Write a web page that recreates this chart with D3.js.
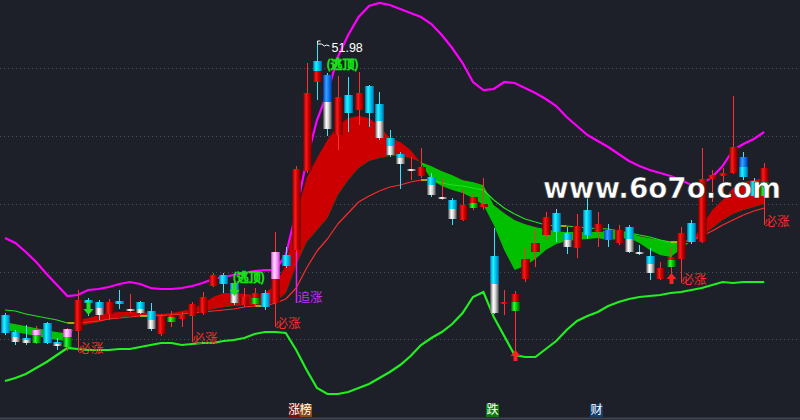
<!DOCTYPE html>
<html>
<head>
<meta charset="utf-8">
<script src="https://cdn.jsdelivr.net/npm/d3@7"></script>
<style>
  html, body { margin: 0; padding: 0; background: #1d2028; }
  svg { display: block; }
</style>
</head>
<body>
<svg id="chart" width="800" height="420"></svg>
<script>
// ---- daily bars ----
const opens = [24.78,23.08,22.48,21.98,23.98,22.08,21.58,23.18,26.28,26.08, 24.88,26.18,25.38,26.08,25.18,22.88,24.08,24.38,24.68,24.98, 27.68,28.78,27.98,25.78,25.88,26.98,25.98,30.78,31.28,39.18, 50.18,48.78,42.78,46.78,45.28,47.68,45.88,42.48,40.88,39.38, 38.68,38.58,36.58,36.28,34.28,35.48,35.58,30.68,25.88,25.18, 28.38,31.08,32.78,34.98,32.98,31.48,35.28,33.08,33.28,31.98, 33.58,31.08,30.68,28.38,29.58,30.38,33.98,32.08,38.38,38.68, 38.98,40.58,38.18,36.68];
const highs = [24.98,23.28,23.78,23.68,24.08,22.48,23.48,27.28,26.48,26.28, 26.38,27.28,26.88,26.18,25.98,24.88,25.18,25.08,26.08,27.08, 28.98,28.98,28.28,27.48,27.48,27.28,33.08,31.58,39.68,49.98, 51.98,48.98,48.68,48.58,49.08,47.78,47.08,43.28,41.08,40.58, 41.48,38.98,38.48,36.48,37.38,36.98,38.48,33.48,27.28,27.18, 31.48,33.28,35.08,35.38,33.58,34.88,37.58,35.08,33.88,33.78, 33.78,31.78,31.48,30.08,31.58,33.58,34.28,41.48,39.28,39.48, 46.68,41.08,38.48,39.98];
const lows = [22.78,21.78,21.78,21.88,21.88,21.28,21.18,22.88,24.68,24.28, 24.28,25.38,24.98,24.88,23.18,22.68,23.58,23.58,24.48,24.78, 27.58,26.98,25.78,25.58,25.58,25.28,24.28,29.48,31.08,38.98, 46.28,42.68,41.28,43.08,43.78,43.58,42.28,40.58,37.38,38.28, 38.48,36.58,36.28,33.78,34.18,35.28,35.28,24.88,24.78,24.98, 28.08,29.58,32.28,32.08,30.88,30.48,32.38,31.58,31.58,31.78, 30.98,30.78,28.28,28.28,29.48,30.18,31.88,31.98,36.08,36.48, 38.88,38.28,36.58,36.28];
const closes = [22.98,22.08,21.98,23.28,21.98,21.68,23.38,26.28,25.98,24.78, 26.08,25.88,25.18,24.98,23.38,24.68,24.78,24.78,25.88,26.58, 28.78,27.88,25.98,26.58,26.98,25.58,31.08,29.68,39.38,46.98, 48.08,43.38,46.58,44.98,46.98,44.98,42.48,40.78,39.88,39.18, 39.58,36.78,36.38,34.38,35.78,36.58,35.88,24.98,26.08,26.88, 30.38,31.98,34.58,33.08,31.58,33.68,32.78,33.88,32.28,33.28, 31.08,30.98,28.98,29.48,30.58,32.98,32.08,38.38,38.78,38.98, 41.58,38.58,36.68,39.48];
// price where a bar's body changes tone (null = single tone)
const splits = [null,22.58,22.28,22.78,null,21.88,22.58,null,null,25.48, null,null,null,25.38,24.28,null,24.58,null,null,null, null,null,26.88,null,26.48,null,28.38,null,null,null, 49.18,46.08,null,null,null,null,44.18,41.68,40.48,null, null,37.78,null,35.38,null,35.98,null,27.88,null,26.08, null,null,null,null,32.28,null,null,null,null,null, 32.38,null,29.88,null,30.28,null,null,null,null,null, null,39.58,null,38.08];
// bar tone state: r red, c cyan, w white, p pink, g green, b blue (upper part first)
const tones = ["c","cw","cw","pg","c","cw","pg","r","c","cw", "r","c","wr","cw","cw","r","rg","r","r","r", "r","c","cw","r","rg","c","pr","c","r","r", "cr","bw","r","c","r","c","cw","cw","cw","wr", "r","cw","wr","cw","r","rg","r","cw","r","rg", "r","r","r","c","cw","r","c","r","b","r", "cw","wc","cw","r","rg","r","c","r","r","r", "r","bc","c","rg"];

// ---- indicator lines ----
const upperBand = [32.48,31.98,31.08,30.08,28.88,27.78,26.68,26.78,27.28,27.38, 27.58,27.88,28.08,27.88,27.48,27.38,27.38,27.48,27.68,27.98, 28.38,28.58,28.78,28.98,29.18,29.28,29.28,30.78,35.08,40.28, 44.28,46.98,50.58,52.78,54.58,55.68,55.98,55.78,55.38,54.98, 54.58,53.88,52.78,51.48,49.98,48.08,47.28,47.38,48.08,47.98, 47.48,46.98,46.38,45.68,44.58,43.68,42.78,42.18,41.58,40.88, 40.18,39.68,39.28,38.98,38.68,38.28,37.78,37.88,38.58,39.68, 41.28,41.88,42.38,43.08];
const lowerBand = [18.18,18.48,18.88,19.48,20.08,20.78,21.48,21.38,21.28,21.28, 21.28,21.38,21.38,21.58,21.78,21.98,21.98,21.78,21.88,21.98, 21.98,22.18,22.28,22.48,22.88,23.08,23.08,22.98,21.28,19.28, 17.48,16.88,16.88,17.08,17.48,17.88,18.48,19.08,19.78,20.68, 21.78,22.48,23.08,23.88,24.98,26.58,27.08,24.58,22.68,20.78, 20.58,20.58,21.38,22.18,23.28,24.18,24.68,25.08,25.68,26.08, 26.38,26.58,26.68,26.78,26.98,27.08,27.28,27.48,27.78,28.08, 27.98,28.08,28.08,28.08];
const slowLine = [25.28,25.18,24.88,24.68,24.48,24.28,23.98,23.98,24.08,24.18, 24.38,24.48,24.58,24.68,24.68,24.73,24.78,24.88,24.98,25.08, 25.18,25.28,25.38,25.58,25.68,25.68,25.98,26.38,27.48,29.48, 31.18,32.38,33.88,34.98,36.08,36.68,37.18,37.58,37.78,38.08, 38.28,38.28,37.98,37.78,37.68,37.48,37.28,36.28,35.48,34.88, 34.38,34.08,33.78,33.68,33.68,33.58,33.48,33.43,33.38,33.18, 32.98,32.78,32.58,32.28,32.08,32.08,32.28,32.68,33.18,33.78, 34.28,34.78,35.18,35.48];
const fastLine = [23.28,23.08,22.88,22.68,22.48,22.28,22.18,24.28,24.48,24.78, 24.98,25.08,25.08,25.08,24.98,24.88,24.98,25.18,25.38,25.88, 26.58,26.98,26.98,26.88,26.78,26.98,27.78,29.78,34.78,38.48, 40.48,42.28,43.68,44.48,44.68,44.48,43.68,42.48,42.08,41.28, 39.98,38.28,37.68,37.28,36.98,36.48,35.78,33.78,31.28,29.28, 29.68,30.38,31.28,31.88,32.18,32.28,32.38,32.48,32.28,32.38, 32.48,31.98,31.28,30.78,30.58,31.38,32.18,33.68,35.28,36.28, 37.48,38.08,38.28,38.48];
const midLine = [24.08,23.88,23.68,23.48,23.28,23.08,22.98,23.68,23.88,24.08, 24.38,24.58,24.68,24.68,24.68,24.68,24.78,24.88,24.98,25.08, 25.38,25.58,25.68,25.78,25.78,25.88,26.08,26.98,29.78,32.08, 33.28,34.48,36.78,38.28,39.48,40.18,40.48,40.68,40.68,40.48, 40.08,39.68,39.18,38.78,38.28,38.08,37.78,35.78,34.98,34.28, 33.88,33.58,33.38,33.18,33.08,33.08,33.08,33.08,33.28,33.18, 32.98,32.68,32.48,32.28,32.08,31.98,31.98,32.68,33.48,34.28, 34.88,35.28,35.58,35.88];

const gridLevels = [49.45, 42.68, 35.90, 29.13, 22.35];

// ---- signals ----
const buySignals = [{i:7,p:21.08},{i:18,p:22.08},{i:26,p:23.58},{i:65,p:27.98},{i:73,p:33.78}];
const chaseSignals = [{i:28,p:25.98}];
const escapeSignals = [{i:22,p:28.38},{i:31,p:49.68}];
const downArrows = [{i:8,p:24.78},{i:22,p:26.68}];
const upArrows = [{i:49,p:21.28},{i:64,p:28.98}];
const peakIndex = 30;

const buyText = "必涨", chaseText = "追涨", escapeText = "(逃顶)";
const siteText = "www.6o7o.com";
const tabLabels = ["涨", "榜", "跌", "财"];

// ---- drawing ----
const W = 800, H = 420;
const svg = d3.select("#chart");
const n = opens.length;
const x = d3.scaleLinear().domain([0, n - 1]).range([5, 764.2]);
const y = d3.scaleLinear().domain([22.38, 51.98]).range([339, 43]);
const bodyW = 8.6;

const defs = svg.append("defs");
const palette = {
  red:   ["#7a0000", "#ff1a1a", "#d00000", "#6a0000"],
  cyan:  ["#0088c8", "#20f4ff", "#00c8f0", "#0078b8"],
  white: ["#5a5a5a", "#ffffff", "#d8d8d8", "#505050"],
  pink:  ["#e050e0", "#ffd8ff", "#ffa8ff", "#d040d0"],
  green: ["#007000", "#30ff30", "#00d000", "#006000"],
  blue:  ["#0040c0", "#3aa0ff", "#1080f0", "#0038a8"]
};
Object.entries(palette).forEach(([k, s]) => {
  const g = defs.append("linearGradient").attr("id", "g-" + k)
    .attr("x1", "0%").attr("x2", "100%").attr("y1", "0%").attr("y2", "0%");
  [0, 35, 60, 100].forEach((o, j) => g.append("stop").attr("offset", o + "%").attr("stop-color", s[j]));
});
const toneParts = {
  r: ["red"], c: ["cyan"], cw: ["cyan", "white"], pg: ["pink", "green"], pr: ["pink", "red"],
  rg: ["red", "green"], wr: ["white"], wc: ["white"], cr: ["cyan", "red"], bw: ["blue", "white"],
  b: ["blue"], bc: ["blue", "cyan"]
};
const redWick = new Set(["r", "pg", "pr", "rg", "wr"]);

// grid
svg.append("g").selectAll("line").data(gridLevels).join("line")
  .attr("x1", 0).attr("x2", W).attr("y1", d => Math.round(y(d)) + 0.5).attr("y2", d => Math.round(y(d)) + 0.5)
  .attr("stroke", "#4b505c").attr("stroke-width", 1).attr("stroke-dasharray", "1,3");
svg.append("line").attr("x1", 0).attr("x2", W).attr("y1", 418.5).attr("y2", 418.5)
  .attr("stroke", "#3f4450").attr("stroke-width", 2);

// ribbon between fast and mid lines: red where fast is above, green where below
const idx = d3.range(n);
const midEdge = d3.line().x(i => x(i)).y(i => y(midLine[i]));
const clipAbove = defs.append("clipPath").attr("id", "clip-above");
clipAbove.append("path").attr("d", d3.area().x(i => x(i)).y0(0).y1(i => y(midLine[i]))(idx));
const clipBelow = defs.append("clipPath").attr("id", "clip-below");
clipBelow.append("path").attr("d", d3.area().x(i => x(i)).y0(H).y1(i => y(midLine[i]))(idx));
const ribbon = d3.area().x(i => x(i)).y0(i => y(midLine[i])).y1(i => y(fastLine[i]));
svg.append("path").attr("d", ribbon(idx)).attr("fill", "#cc0000").attr("clip-path", "url(#clip-above)");
svg.append("path").attr("d", ribbon(idx)).attr("fill", "#00c000").attr("clip-path", "url(#clip-below)");

// bands
const lineOf = arr => d3.line().x(i => x(i)).y(i => y(arr[i]))(idx);
svg.append("path").attr("d", lineOf(upperBand)).attr("fill", "none").attr("stroke", "#ff00ff").attr("stroke-width", 2.2);
svg.append("path").attr("d", lineOf(lowerBand)).attr("fill", "none").attr("stroke", "#22ee22").attr("stroke-width", 2.2);

// slow line coloured by its own trend
const slowSegs = d3.range(n - 1).map(i => {
  const d = slowLine[i + 1] - slowLine[i];
  return { i, col: Math.abs(d) < 0.02 ? "#ffff00" : (d > 0 ? "#ff2a2a" : "#22e022") };
});
svg.append("g").selectAll("line").data(slowSegs).join("line")
  .attr("x1", d => x(d.i)).attr("x2", d => x(d.i + 1))
  .attr("y1", d => y(slowLine[d.i])).attr("y2", d => y(slowLine[d.i + 1]))
  .attr("stroke", d => d.col).attr("stroke-width", 1.2);

// candles
const bars = svg.append("g").selectAll("g").data(idx).join("g");
bars.append("line")
  .attr("x1", i => Math.round(x(i)) + 0.5).attr("x2", i => Math.round(x(i)) + 0.5)
  .attr("y1", i => y(highs[i])).attr("y2", i => y(lows[i]))
  .attr("stroke", i => redWick.has(tones[i]) ? "#ff3030" : "#30e8ff").attr("stroke-width", 1);
bars.each(function (i) {
  const g = d3.select(this);
  const top = y(Math.max(opens[i], closes[i]));
  const bot = Math.max(y(Math.min(opens[i], closes[i])), top + 2);
  const parts = toneParts[tones[i]];
  const x0 = Math.round(x(i)) + 0.5 - bodyW / 2;
  if (parts.length === 1 || splits[i] === null) {
    g.append("rect").attr("x", x0).attr("y", top).attr("width", bodyW).attr("height", bot - top)
      .attr("fill", "url(#g-" + parts[0] + ")");
  } else {
    const m = y(splits[i]);
    g.append("rect").attr("x", x0).attr("y", top).attr("width", bodyW).attr("height", m - top)
      .attr("fill", "url(#g-" + parts[0] + ")");
    g.append("rect").attr("x", x0).attr("y", m).attr("width", bodyW).attr("height", bot - m)
      .attr("fill", "url(#g-" + parts[1] + ")");
  }
});

// signal markers
const cjk = "'Noto Sans CJK SC', sans-serif";
buySignals.forEach(s => {
  const xx = Math.round(x(s.i)) + 0.5;
  svg.append("line").attr("x1", xx).attr("x2", xx).attr("y1", y(lows[s.i])).attr("y2", y(s.p))
    .attr("stroke", "#ff3030").attr("stroke-width", 1);
  svg.append("text").attr("x", xx).attr("y", y(s.p) - 2).attr("dominant-baseline", "middle")
    .attr("font-family", cjk).attr("font-size", 12.5).attr("fill", "#ff2a2a").text(buyText);
});
chaseSignals.forEach(s => {
  const xx = Math.round(x(s.i)) + 0.5;
  svg.append("line").attr("x1", xx).attr("x2", xx).attr("y1", y(lows[s.i])).attr("y2", y(s.p))
    .attr("stroke", "#e020f0").attr("stroke-width", 1.5);
  svg.append("text").attr("x", xx + 1).attr("y", y(s.p) - 4).attr("dominant-baseline", "middle")
    .attr("font-family", cjk).attr("font-size", 12.5).attr("fill", "#c030ff").text(chaseText);
});
escapeSignals.forEach(s => {
  svg.append("text").attr("x", x(s.i) - 1).attr("y", y(s.p)).attr("dominant-baseline", "middle")
    .attr("font-family", cjk).attr("font-size", 12).attr("fill", "#101810")
    .attr("stroke", "#18e018").attr("stroke-width", 0.9).text(escapeText);
});
downArrows.forEach(s => {
  const xx = Math.round(x(s.i)) + 0.5, yt = y(s.p);
  svg.append("path").attr("d", `M${xx},${yt} l-5,-6 h3 v-7 h4 v7 h3 z`).attr("fill", "#22dd22");
});
upArrows.forEach(s => {
  const xx = Math.round(x(s.i)) + 0.5, yt = y(s.p);
  svg.append("line").attr("x1", xx).attr("x2", xx).attr("y1", y(lows[s.i])).attr("y2", yt + 10)
    .attr("stroke", "#ff3030").attr("stroke-width", 1);
  svg.append("path").attr("d", `M${xx},${yt} l-5,6 h3 v5 h4 v-5 h3 z`).attr("fill", "#ff2020");
});

// peak price flag
const px = Math.round(x(peakIndex)) + 0.5, py = y(highs[peakIndex]);
svg.append("path").attr("d", `M${px},${py} l0,-2 l3,0 M${px},${py + 1} l4,0 l3,2 l2,-1 l3,1`)
  .attr("fill", "none").attr("stroke", "#ffffff").attr("stroke-width", 1);
svg.append("text").attr("x", px + 14).attr("y", py + 9)
  .attr("font-family", "'Liberation Sans', Arial, sans-serif").attr("font-size", 12.5)
  .attr("fill", "#ffffff").text(d3.format(".2f")(highs[peakIndex]));

// site mark
svg.append("text").attr("x", 543).attr("y", 198)
  .attr("font-family", "'DejaVu Sans', sans-serif").attr("font-weight", "bold").attr("font-size", 29)
  .attr("textLength", 238).attr("lengthAdjust", "spacingAndGlyphs")
  .attr("fill", "#ffffff").attr("stroke", "#2a2a2a").attr("stroke-width", 0.6).text(siteText);

// bottom tabs
const tabX = [289, 299.5, 486, 590], tabW = [10.5, 12.5, 13, 13], tabBg = ["#7a0f0f", "#8a4a10", "#0a7a0a", "#123e72"];
tabLabels.forEach((t, k) => {
  svg.append("rect").attr("x", tabX[k]).attr("y", 404).attr("width", tabW[k]).attr("height", 13).attr("fill", tabBg[k]);
  svg.append("text").attr("x", tabX[k] + tabW[k] / 2).attr("y", 411).attr("text-anchor", "middle")
    .attr("dominant-baseline", "middle").attr("font-family", cjk).attr("font-size", 12)
    .attr("fill", "#ffffff").text(t);
});
</script>
</body>
</html>
